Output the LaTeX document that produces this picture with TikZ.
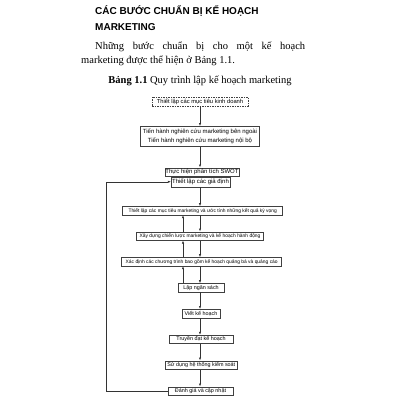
\documentclass[tikz,border=0pt]{standalone}
\usepackage{fontspec}
\setmainfont{Liberation Serif}
\newfontfamily\boxfont{Liberation Sans}
\usetikzlibrary{arrows.meta}

\begin{document}
\begin{tikzpicture}[x=1pt, y=-1pt,
    stepbox/.style={draw=black!75, line width=0.5pt, fill=white, inner xsep=2.5pt,
        inner ysep=1.2pt, minimum height=8.5pt, font=\boxfont\fontsize{4.9}{6}\selectfont},
    smallbox/.style={stepbox, font=\boxfont\fontsize{5.4}{6}\selectfont},
    bigbox/.style={stepbox, font=\boxfont\fontsize{6}{9.5}\selectfont},
    goalbox/.style={stepbox, dash pattern=on 1.5pt off 1pt, font=\boxfont\fontsize{5.8}{6}\selectfont},
    flow/.style={-{Latex[length=3pt,width=2.2pt]}, line width=0.5pt, black!80},
    heading/.style={anchor=base west, inner sep=0pt, font=\boxfont\bfseries\fontsize{10}{12}\selectfont},
    bodytext/.style={anchor=base west, inner sep=0pt, font=\fontsize{10.5}{12}\selectfont}]
    \useasboundingbox[fill=white] (0,0) rectangle (400,400);

    % heading and text
    \node[heading] (title1) at (95,14.5) {CÁC BƯỚC CHUẨN BỊ KẾ HOẠCH};
    \node[heading] (title2) at (95,30.5) {MARKETING};
    \node[bodytext] (line1) at (95,49) {\makebox[210pt][s]{Những bước chuẩn bị cho một kế hoạch}};
    \node[bodytext] (line2) at (81,63.5) {marketing được thể hiện ở Bảng 1.1.};
    \node[bodytext, anchor=base] (caption) at (200,83.5)
        {\textbf{Bảng 1.1} Quy trình lập kế hoạch marketing};

    % steps
    \node[goalbox, minimum width=96pt] (goal) at (200,101.5) {Thiết lập các mục tiêu kinh doanh};
    \node[bigbox, align=center, inner ysep=2.3pt, minimum width=116pt] (research) at (200,136.3)
        {Tiến hành nghiên cứu marketing bên ngoài\\Tiến hành nghiên cứu marketing nội bộ};
    \node[bigbox, inner xsep=0.5pt, minimum width=74pt] (swot) at (202,172) {Thực hiện phân tích SWOT};
    \node[bigbox, anchor=north, inner xsep=1pt, minimum width=57pt, minimum height=10pt] (assume)
        at ([xshift=-1.5pt]swot.south) {Thiết lập các giả định};
    \node[stepbox, minimum width=160pt] (objectives) at (202.7,210.7)
        {Thiết lập các mục tiêu marketing và ước tính những kết quả kỳ vọng};
    \node[stepbox, minimum width=126.6pt] (strategy) at (200,236)
        {Xây dựng chiến lược marketing và kế hoạch hành động};
    \node[stepbox, minimum width=160pt] (programs) at (201.7,261.7)
        {Xác định các chương trình bao gồm kế hoạch quảng bá và quảng cáo};
    \node[smallbox, minimum width=46pt] (budget) at (201,287.7) {Lập ngân sách};
    \node[smallbox, minimum width=38pt] (write) at (201,313.5) {Viết kế hoạch};
    \node[smallbox, minimum width=64.3pt] (communicate) at (201,339.3) {Truyền đạt kế hoạch};
    \node[smallbox, minimum width=69.3pt] (control) at (201.3,365) {Sử dụng hệ thống kiểm soát};
    \node[smallbox, minimum width=65pt] (review) at (200.5,391) {Đánh giá và cập nhật};

    % arrows down
    \coordinate (down) at (200,0);
    \coordinate (up) at (183,0);
    \foreach \a/\b in {goal/research, research/swot, assume/objectives, objectives/strategy,
        strategy/programs, programs/budget, budget/write, write/communicate,
        communicate/control, control/review}
        \draw[flow] (\a.south -| down) -- (\b.north -| down);

    % arrows back up
    \foreach \a/\b in {strategy/objectives, programs/strategy, budget/programs}
        \draw[flow] (\a.north -| up) -- (\b.south -| up);

    % review loop
    \coordinate (back) at (106,391);
    \draw[flow] (review.west) -- (back) |- (assume.west);
\end{tikzpicture}
\end{document}
